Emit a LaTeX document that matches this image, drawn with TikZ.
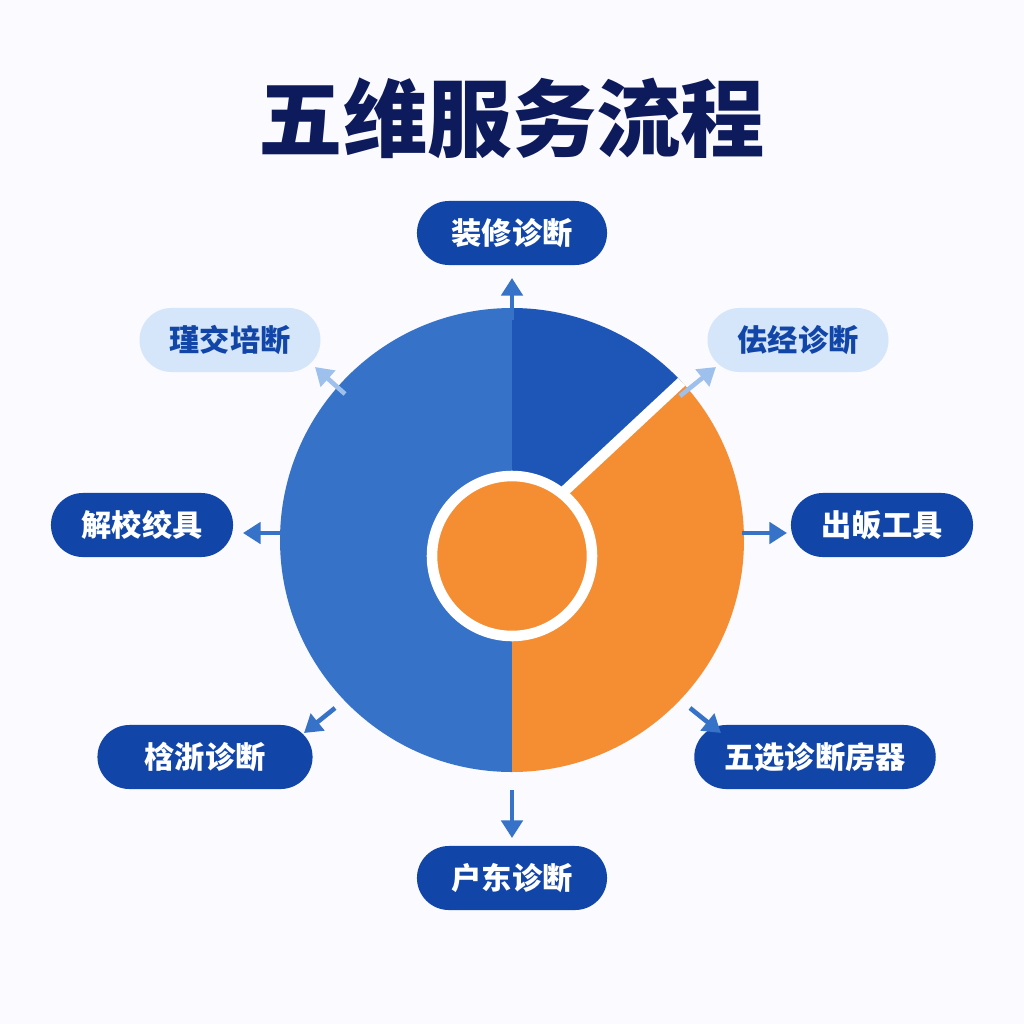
\documentclass[tikz,border=0pt]{standalone}
\usepackage{fontspec}
\newfontfamily\cjk{Noto Sans CJK SC}
\usetikzlibrary{arrows.meta}
\definecolor{navy}{HTML}{0D1B5C}
\definecolor{pilldark}{HTML}{1146A8}
\definecolor{pilllight}{HTML}{D6E6FA}
\definecolor{segblue}{HTML}{3672C8}
\definecolor{segdeep}{HTML}{1E56B8}
\definecolor{segorange}{HTML}{F58D32}
\definecolor{arrlight}{HTML}{9DC0EC}
\tikzset{
  pill/.style={fill=pilldark, text=white, font=\cjk\bfseries\fontsize{8.6}{10}\selectfont, minimum height=0.64cm, inner xsep=0.3cm, rounded corners=0.32cm},
  lightpill/.style={pill, fill=pilllight, text=pilldark},
  link/.style={-{Triangle[length=5pt,width=6pt]}, line width=1.3pt, draw=segblue},
  lightlink/.style={link, draw=arrlight}
}
\begin{document}
\begin{tikzpicture}[x=0.01cm,y=-0.01cm]
\def\cx{512}
\def\cy{540}
\def\R{232}
\def\r{80}

\fill[white!98!blue] (0,0) rectangle (1024,1024);

\node[font=\cjk\bfseries\fontsize{24}{28}\selectfont, text=navy] (title) at (512,118) {五维服务流程};

% ring segments
\fill[segblue] (\cx,\cy) -- ++(0,-\R) arc[start angle=-90, end angle=-270, radius=\R] -- cycle;
\fill[segdeep] (\cx,\cy) -- ++(0,-\R) arc[start angle=-90, end angle=-43, radius=\R] -- cycle;
\fill[segorange] (\cx,\cy) -- ++(-43:\R) arc[start angle=-43, end angle=90, radius=\R] -- cycle;
\draw[white, line width=3pt] (\cx,\cy) -- ++(-43:\R);
\filldraw[fill=segorange, draw=white, line width=3pt] (\cx,556) circle (\r);

% start points on the ring
\coordinate (pt) at (512,320);
\coordinate (ptl) at (345,394);
\coordinate (ptr) at (680,396);
\coordinate (pl) at (282,533);
\coordinate (pr) at (742,533);
\coordinate (pbl) at (335,708);
\coordinate (pbr) at (690,708);
\coordinate (pb) at (512,790);
% end points at the pills
\coordinate (et) at (512,278);
\coordinate (etl) at (315,367);
\coordinate (etr) at (716,367);
\coordinate (el) at (243,533);
\coordinate (er) at (787,533);
\coordinate (ebl) at (304,733);
\coordinate (ebr) at (721,733);
\coordinate (eb) at (512,838);

\node[pill, minimum width=1.9cm] (top) at (512,233) {装修诊断};
\node[lightpill, minimum width=1.8cm] (tl) at (230,340) {瑾交培断};
\node[lightpill, minimum width=1.8cm] (tr) at (798,340) {佉经诊断};
\node[pill, minimum width=1.82cm] (left) at (142,525) {解校绞具};
\node[pill, minimum width=1.82cm] (right) at (882,525) {出皈工具};
\node[pill, minimum width=2.15cm] (bl) at (205,757) {梒浙诊断};
\node[pill, minimum width=2.02cm] (br) at (815,757) {五选诊断房器};
\node[pill, minimum width=1.9cm] (bottom) at (512,878) {户东诊断};

\draw[link] (pt) -- (et);
\draw[lightlink] (ptl) -- (etl);
\draw[lightlink] (ptr) -- (etr);
\draw[link] (pl) -- (el);
\draw[link] (pr) -- (er);
\draw[link] (pbl) -- (ebl);
\draw[link] (pbr) -- (ebr);
\draw[link] (pb) -- (eb);
\end{tikzpicture}
\end{document}
